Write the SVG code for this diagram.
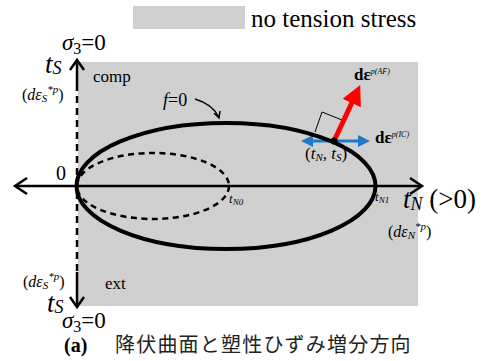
<svg xmlns="http://www.w3.org/2000/svg" width="486" height="361" viewBox="0 0 486 361">
<style>
text{font-family:'Liberation Serif','Times New Roman','DejaVu Serif',serif}
.i{font-style:italic}
.b{font-weight:bold}
.ax{stroke:#000;stroke-width:2.5;fill:none}
text.cjk{font-family:'Noto Sans CJK JP','Noto Sans CJK SC',sans-serif;fill:#222}
</style>
<defs>
<marker id="redHead" markerWidth="4" markerHeight="4" refX="2" refY="2" orient="auto" markerUnits="strokeWidth" viewBox="0 0 4 4">
<path d="M0,0 L4,2 L0,4 Z" fill="#FF0000"/>
</marker>
<marker id="blueHead" markerWidth="4" markerHeight="4" refX="2" refY="2" orient="auto-start-reverse" markerUnits="strokeWidth" viewBox="0 0 4 4">
<path d="M0,0 L4,2 L0,4 Z" fill="#1F78C8"/>
</marker>
</defs>
<g id="legend">
<rect x="133" y="6" width="112" height="23" fill="#D0D0D0"/>
<text x="251" y="27" font-size="25" font-family="Liberation Serif, serif">no tension stress</text>
</g>
<g id="region">
<rect x="78" y="62" width="340" height="244" fill="#D0D0D0"/>
</g>
<g id="connectors">
<line class="ax" x1="16" y1="186" x2="421" y2="186"/>
<path class="ax" d="M27,178 L15,186 L27,194"/>
<path class="ax" d="M410,178 L422,186 L410,194"/>
<line x1="77" y1="62" x2="77" y2="84" stroke="#000" stroke-width="2.5"/>
<line x1="77" y1="84" x2="77" y2="272" stroke="#000" stroke-width="2.5" stroke-dasharray="7,5"/>
<line x1="77" y1="272" x2="77" y2="306" stroke="#000" stroke-width="2.5"/>
<path class="ax" d="M70,70 L77,60 L84,70"/>
<path class="ax" d="M70,297 L77,307 L84,297"/>
<path d="M195,99 Q212,104 219,117" stroke="#000" stroke-width="1.5" fill="none"/>
<path d="M214,113 L219,118 L220,111" stroke="#000" stroke-width="1.5" fill="none"/>
<path d="M315,132 L322,112 L342,120" stroke="#000" stroke-width="1" fill="none"/>
<line x1="307" y1="141" x2="364" y2="141" stroke="#1F78C8" stroke-width="3" marker-start="url(#blueHead)" marker-end="url(#blueHead)"/>
<line x1="334" y1="141" x2="356" y2="94" stroke="#FF0000" stroke-width="5" marker-end="url(#redHead)"/>
</g>
<g id="yield-surfaces">
<ellipse cx="226" cy="186" rx="149.5" ry="63" fill="none" stroke="#000" stroke-width="4"/>
<ellipse cx="153" cy="186" rx="76" ry="33" fill="none" stroke="#000" stroke-width="2.5" stroke-dasharray="6,4.5"/>
<circle cx="334" cy="141" r="3.5" fill="#000"/>
</g>
<g id="labels">
<text class="i" x="62" y="50" font-size="23">σ<tspan font-style="normal" font-size="16" dy="4">3</tspan><tspan font-style="normal" dy="-4">=0</tspan></text>
<text class="i" x="45" y="73" font-size="27">t<tspan font-size="18" dy="1">S</tspan></text>
<text x="22" y="100" font-size="16">(<tspan class="i">dε<tspan font-size="11" dy="2">S</tspan><tspan font-size="11" dy="-9">*p</tspan></tspan><tspan dy="7">)</tspan></text>
<text x="93" y="82" font-size="17">comp</text>
<text x="163" y="106" font-size="18"><tspan class="i">f</tspan>=0</text>
<text x="56" y="180" font-size="20">0</text>
<text class="i" x="229" y="203" font-size="13">t<tspan font-size="9" dy="2">N0</tspan></text>
<text class="i" x="375" y="201" font-size="13">t<tspan font-size="9" dy="2">N1</tspan></text>
<text x="305" y="159" font-size="17">(<tspan class="i">t<tspan font-size="11" dy="2">N</tspan></tspan><tspan dy="-2">, </tspan><tspan class="i">t<tspan font-size="11" dy="2">S</tspan></tspan><tspan dy="-2">)</tspan></text>
<text class="b" x="375" y="143" font-size="17">dε<tspan font-weight="normal" font-style="italic" font-size="8" dy="-6">p(IC)</tspan></text>
<text class="b" x="354" y="80" font-size="17">dε<tspan font-weight="normal" font-style="italic" font-size="8" dy="-6">p(AF)</tspan></text>
<text x="403" y="208" font-size="27"><tspan class="i">t<tspan font-size="18" dy="2">N</tspan></tspan><tspan dy="-2"> (&gt;0)</tspan></text>
<text x="388" y="237" font-size="16">(<tspan class="i">dε<tspan font-size="11" dy="2">N</tspan><tspan font-size="11" dy="-9">*p</tspan></tspan><tspan dy="7">)</tspan></text>
<text x="23" y="287" font-size="16">(<tspan class="i">dε<tspan font-size="11" dy="2">S</tspan><tspan font-size="11" dy="-9">*p</tspan></tspan><tspan dy="7">)</tspan></text>
<text x="105" y="289" font-size="17">ext</text>
<text class="i" x="47" y="312" font-size="27">t<tspan font-size="18" dy="1">S</tspan></text>
<text class="i" x="62" y="328" font-size="23">σ<tspan font-style="normal" font-size="16" dy="4">3</tspan><tspan font-style="normal" dy="-4">=0</tspan></text>
<text class="b" x="64" y="352" font-size="20">(a)</text>
<text class="cjk" x="115" y="352" font-size="20" letter-spacing="1.2">降伏曲面と塑性ひずみ増分方向</text>
</g>
</svg>
